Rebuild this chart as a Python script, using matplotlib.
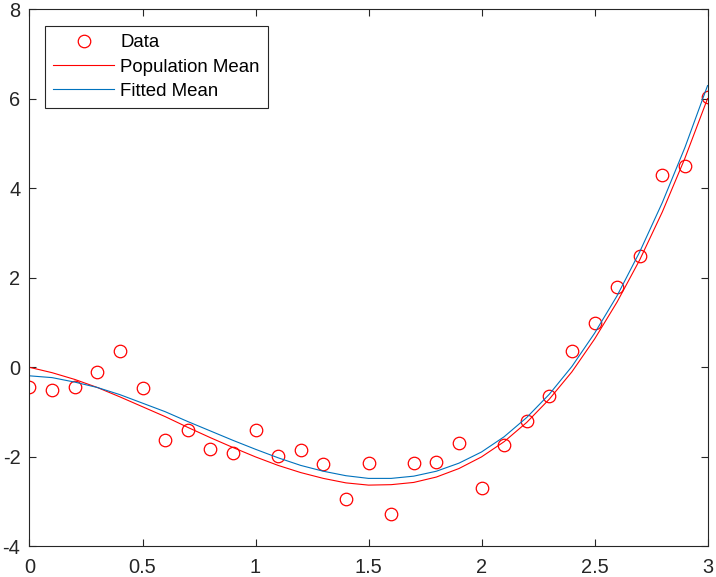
import matplotlib
matplotlib.use("Agg")
import matplotlib.pyplot as plt

plt.rcParams["font.family"] = ["Liberation Sans", "DejaVu Sans"]
plt.rcParams["axes.unicode_minus"] = False

# x positions of the samples and the curves
x_vals = [0.0, 0.1, 0.2, 0.3, 0.4, 0.5, 0.6, 0.7, 0.8, 0.9,
          1.0, 1.1, 1.2, 1.3, 1.4, 1.5, 1.6, 1.7, 1.8, 1.9,
          2.0, 2.1, 2.2, 2.3, 2.4, 2.5, 2.6, 2.7, 2.8, 2.9, 3.0]

# noisy observations (red circles)
data_y = [-0.43, -0.50, -0.43, -0.11, 0.37, -0.46, -1.62, -1.41, -1.82, -1.92,
          -1.40, -1.98, -1.84, -2.16, -2.94, -2.14, -3.27, -2.14, -2.12, -1.69,
          -2.69, -1.73, -1.20, -0.64, 0.36, 0.98, 1.79, 2.49, 4.30, 4.49, 6.03]

# true mean (red line)
pop_mean = [0.00, -0.12, -0.27, -0.45, -0.66, -0.88, -1.10, -1.34, -1.57, -1.79,
            -2.00, -2.19, -2.35, -2.48, -2.58, -2.63, -2.62, -2.57, -2.45, -2.26,
            -2.00, -1.66, -1.23, -0.71, -0.10, 0.63, 1.46, 2.40, 3.47, 4.67, 6.00]

# fitted mean (blue line)
fit_mean = [-0.19, -0.23, -0.33, -0.45, -0.61, -0.80, -0.99, -1.21, -1.42, -1.63,
            -1.83, -2.02, -2.19, -2.32, -2.42, -2.48, -2.48, -2.43, -2.32, -2.14,
            -1.89, -1.55, -1.12, -0.60, 0.02, 0.76, 1.60, 2.58, 3.68, 4.91, 6.29]

x_ticks = [0, 0.5, 1, 1.5, 2, 2.5, 3]
x_labels = ["0", "0.5", "1", "1.5", "2", "2.5", "3"]
y_ticks = [-4, -2, 0, 2, 4, 6, 8]

axis_gray = "#262626"

fig = plt.figure(figsize=(7.16, 5.77), dpi=100)
ax = fig.add_axes([0.0412, 0.0529, 0.947, 0.9315])

ax.plot(x_vals, data_y, "o", ms=9, mfc="none", mec="#FF0000", mew=0.9,
        label="Data")
ax.plot(x_vals, pop_mean, color="#FF0000", lw=0.8, label="Population Mean")
ax.plot(x_vals, fit_mean, color="#0072BD", lw=0.8, label="Fitted Mean")

ax.set_xlim(0, 3)
ax.set_ylim(-4, 8)
ax.set_xticks(x_ticks)
ax.set_xticklabels(x_labels)
ax.set_yticks(y_ticks)

for s in ax.spines.values():
    s.set_color(axis_gray)
    s.set_linewidth(0.8)
ax.tick_params(direction="in", length=4.8, width=0.8, color=axis_gray,
               labelcolor=axis_gray, labelsize=14.4, top=True, right=True)
ax.tick_params(axis="x", pad=8)
ax.tick_params(axis="y", pad=6.5)

leg = ax.legend(loc="upper left", bbox_to_anchor=(0.0229, 0.968),
                borderaxespad=0, fontsize=13.4, handlelength=3.3,
                handletextpad=0.33, labelspacing=0.4, borderpad=0.42,
                fancybox=False, framealpha=1, edgecolor=axis_gray,
                numpoints=1)
leg.get_frame().set_linewidth(0.8)

fig.savefig("out.png", dpi=100)
